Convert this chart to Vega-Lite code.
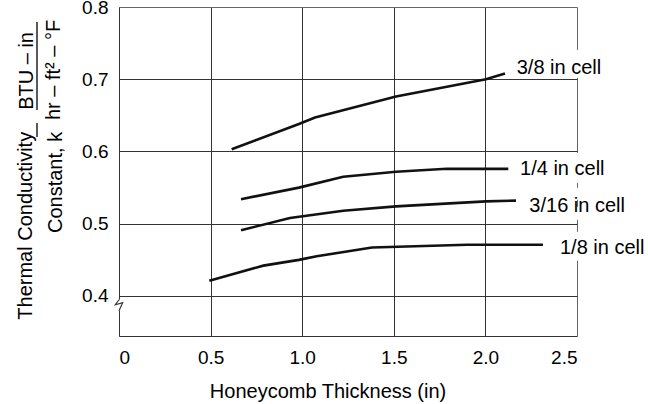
{
  "$schema": "https://vega.github.io/schema/vega-lite/v6.json",
  "width": 458,
  "height": 329,
  "autosize": {"type": "none"},
  "padding": {"left": 119, "top": 7, "right": 71, "bottom": 68},
  "background": "white",
  "config": {
    "font": "Liberation Sans",
    "view": {"stroke": null},
    "axis": {"gridColor": "#333", "gridOpacity": 1, "domainColor": "#333", "labelColor": "#000", "titleColor": "#000"}
  },
  "datasets": {
    "curves": [
      {"series": "3/8", "x": 0.615, "y": 0.603},
      {"series": "3/8", "x": 0.982, "y": 0.638},
      {"series": "3/8", "x": 1.07, "y": 0.647},
      {"series": "3/8", "x": 1.512, "y": 0.676},
      {"series": "3/8", "x": 2.003, "y": 0.700},
      {"series": "3/8", "x": 2.107, "y": 0.708},
      {"series": "1/4", "x": 0.666, "y": 0.534},
      {"series": "1/4", "x": 0.982, "y": 0.550},
      {"series": "1/4", "x": 1.224, "y": 0.565},
      {"series": "1/4", "x": 1.512, "y": 0.572},
      {"series": "1/4", "x": 1.789, "y": 0.576},
      {"series": "1/4", "x": 2.125, "y": 0.576},
      {"series": "3/16", "x": 0.666, "y": 0.491},
      {"series": "3/16", "x": 0.933, "y": 0.508},
      {"series": "3/16", "x": 1.224, "y": 0.518},
      {"series": "3/16", "x": 1.512, "y": 0.524},
      {"series": "3/16", "x": 2.003, "y": 0.531},
      {"series": "3/16", "x": 2.167, "y": 0.532},
      {"series": "1/8", "x": 0.493, "y": 0.421},
      {"series": "1/8", "x": 0.788, "y": 0.442},
      {"series": "1/8", "x": 0.982, "y": 0.450},
      {"series": "1/8", "x": 1.079, "y": 0.455},
      {"series": "1/8", "x": 1.381, "y": 0.467},
      {"series": "1/8", "x": 1.90, "y": 0.471},
      {"series": "1/8", "x": 2.314, "y": 0.471}
    ],
    "labels": [
      {"label": "3/8 in cell", "x": 2.171, "y": 0.7074},
      {"label": "1/4 in cell", "x": 2.189, "y": 0.5677},
      {"label": "3/16 in cell", "x": 2.240, "y": 0.5169},
      {"label": "1/8 in cell", "x": 2.407, "y": 0.4584}
    ],
    "gaps": [
      {"x": 2.5, "y": 0.7406, "y2": 0.7018},
      {"x": 2.5, "y": 0.5981, "y2": 0.5566},
      {"x": 2.5, "y": 0.5497, "y2": 0.5331},
      {"x": 2.5, "y": 0.5234, "y2": 0.5054},
      {"x": 2.5, "y": 0.4888, "y2": 0.4487},
      {"x": 0, "y": 0.3948, "y2": 0.3796}
    ],
    "zigzag": [
      {"o": 1, "x": 0, "y": 0.3948},
      {"o": 2, "x": -0.02, "y": 0.3879},
      {"o": 3, "x": 0.02, "y": 0.3906},
      {"o": 4, "x": 0, "y": 0.3796}
    ],
    "ytitleA": [
      {"t": "Thermal Conductivity", "x": -0.475, "y": 0.6272},
      {"t": "Constant, k", "x": -0.311, "y": 0.6272}
    ],
    "ytitleB": [
      {"t": "BTU – in", "x": -0.469, "y": 0.7115},
      {"t": "hr – ft² – °F", "x": -0.322, "y": 0.7129}
    ],
    "bars": [
      {"x": -0.4476, "y": 0.7793, "y2": 0.6576},
      {"x": -0.4476, "y": 0.6396, "y2": 0.6202}
    ]
  },
  "layer": [
    {
      "data": {"name": "curves"},
      "mark": {"type": "line", "color": "#111", "strokeWidth": 2.6},
      "encoding": {
        "x": {
          "field": "x", "type": "quantitative",
          "scale": {"domain": [0, 2.5], "nice": false, "zero": false},
          "axis": {
            "values": [0, 0.5, 1, 1.5, 2, 2.5],
            "grid": true, "ticks": false, "labelFontSize": 19, "labelPadding": 12,
            "labelExpr": "datum.value == 0 ? '0' : format(datum.value, '.1f')",
            "gridColor": {"condition": {"test": "datum.value == 2.5", "value": "#666"}, "value": "#333"},
            "title": "Honeycomb Thickness (in)", "titleFontSize": 20, "titleFontWeight": "normal",
            "titleX": 208.5, "titleY": 61, "titleBaseline": "alphabetic"
          }
        },
        "y": {
          "field": "y", "type": "quantitative",
          "scale": {"domain": [0.3446, 0.8], "nice": false, "zero": false},
          "axis": {
            "values": [0.4, 0.5, 0.6, 0.7, 0.8],
            "grid": true, "ticks": false, "labelFontSize": 19, "labelPadding": 11,
            "format": ".1f", "title": null,
            "gridColor": {"condition": {"test": "datum.value == 0.8", "value": "#666"}, "value": "#333"}
          }
        },
        "detail": {"field": "series"}
      }
    },
    {
      "data": {"name": "gaps"},
      "mark": {"type": "rule", "color": "white", "strokeWidth": 3},
      "encoding": {
        "x": {"field": "x", "type": "quantitative"},
        "y": {"field": "y", "type": "quantitative"},
        "y2": {"field": "y2"}
      }
    },
    {
      "data": {"name": "zigzag"},
      "mark": {"type": "line", "color": "#333", "strokeWidth": 1.2},
      "encoding": {
        "x": {"field": "x", "type": "quantitative"},
        "y": {"field": "y", "type": "quantitative"},
        "order": {"field": "o"}
      }
    },
    {
      "data": {"name": "labels"},
      "mark": {"type": "text", "align": "left", "baseline": "alphabetic", "fontSize": 20, "color": "#000"},
      "encoding": {
        "x": {"field": "x", "type": "quantitative"},
        "y": {"field": "y", "type": "quantitative"},
        "text": {"field": "label"}
      }
    },
    {
      "data": {"name": "ytitleA"},
      "mark": {"type": "text", "angle": 270, "align": "right", "baseline": "alphabetic", "fontSize": 20, "color": "#000"},
      "encoding": {
        "x": {"field": "x", "type": "quantitative"},
        "y": {"field": "y", "type": "quantitative"},
        "text": {"field": "t"}
      }
    },
    {
      "data": {"name": "ytitleB"},
      "mark": {"type": "text", "angle": 270, "align": "center", "baseline": "alphabetic", "fontSize": 20, "color": "#000"},
      "encoding": {
        "x": {"field": "x", "type": "quantitative"},
        "y": {"field": "y", "type": "quantitative"},
        "text": {"field": "t"}
      }
    },
    {
      "data": {"name": "bars"},
      "mark": {"type": "rule", "color": "#000", "strokeWidth": 1.3},
      "encoding": {
        "x": {"field": "x", "type": "quantitative"},
        "y": {"field": "y", "type": "quantitative"},
        "y2": {"field": "y2"}
      }
    }
  ]
}
